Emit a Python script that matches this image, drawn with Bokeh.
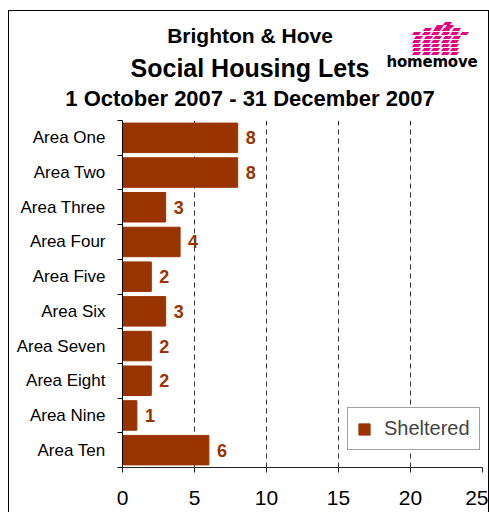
import html as _html
from bokeh.plotting import figure
from bokeh.layouts import column
from bokeh.models import (ColumnDataSource, FixedTicker, LabelSet, Legend, LegendItem, Div)
from bokeh.core.properties import value
from bokeh.embed import file_html
from bokeh.resources import INLINE

# ---- data ----
categories = ["Area One", "Area Two", "Area Three", "Area Four", "Area Five",
              "Area Six", "Area Seven", "Area Eight", "Area Nine", "Area Ten"]
sheltered = [8, 8, 3, 4, 2, 3, 2, 2, 1, 6]
x_ticks = [0, 5, 10, 15, 20, 25]
series_name = "Sheltered"
title_lines = ["Brighton & Hove", "Social Housing Lets", "1 October 2007 - 31 December 2007"]
logo_word = "homemove"

FONT = "Liberation Sans"
BAR = "#993300"
PINK = "#e6007e"
W = 479
HEAD_H = 109

# ---------------- header (titles + logo) as HTML ----------------
title_sizes = [21, 25, 22]
title_cy = [24, 57, 88]          # vertical centres inside the header
parts = [f'<div style="position:relative;width:{W}px;height:{HEAD_H}px;overflow:hidden;'
         f'font-family:\'{FONT}\',Arial,sans-serif;color:black;">']
for t, s, cy in zip(title_lines, title_sizes, title_cy):
    parts.append(f'<div style="position:absolute;left:0;width:482px;top:{cy - s // 2}px;'
                 f'height:{s}px;line-height:{s}px;font-size:{s}px;font-weight:bold;'
                 f'text-align:center;white-space:nowrap;">{_html.escape(t)}</div>')
# logo: rows of small slanted pink blocks (row top, first block left, count)
logo_rows = [(11, 435, 1), (14, 427, 2), (17, 415, 4), (21, 404, 6),
             (25, 406, 5), (29, 404, 5), (33, 404, 5), (37, 404, 5), (41, 404, 5)]
for top, left, cnt in logo_rows:
    for k in range(cnt):
        parts.append(f'<div style="position:absolute;left:{left + 9.5 * k:.1f}px;top:{top}px;'
                     f'width:7px;height:3px;background:{PINK};transform:skewX(-35deg);"></div>')
parts.append(f'<div style="position:absolute;left:373px;width:100px;top:45px;height:12px;'
             f'line-height:12px;font-family:\'DejaVu Sans\',sans-serif;font-size:15px;'
             f'font-weight:900;text-align:center;letter-spacing:-0.2px;">{logo_word}</div>')
parts.append('</div>')
head = Div(text="".join(parts), width=W, height=HEAD_H, margin=(0, 0, 0, 0))

# ---------------- main chart ----------------
n = len(categories)
ypos = [n - 0.5 - i for i in range(n)]
src = ColumnDataSource(dict(cat=categories, val=sheltered, y=ypos,
                            lbl=[str(v) for v in sheltered]))

p = figure(width=W, height=501 - HEAD_H, x_range=(0, 25), y_range=(0, n),
           output_backend="svg", toolbar_location=None,
           min_border_left=113, min_border_right=6,
           min_border_top=0, min_border_bottom=45)
p.outline_line_color = None
p.background_fill_color = "white"

r = p.hbar(y="y", left=0, right="val", height=0.85, source=src,
           fill_color=BAR, line_color=BAR)

p.add_layout(LabelSet(x="val", y="y", text="lbl", source=src, x_offset=8,
                      text_baseline="middle", text_align="left",
                      text_font=value(FONT), text_font_size="18px",
                      text_font_style="bold", text_color=BAR))

# x axis
p.xaxis.ticker = FixedTicker(ticks=x_ticks)
p.xaxis.major_label_text_font = FONT
p.xaxis.major_label_text_font_size = "21px"
p.xaxis.major_label_text_color = "black"
p.xaxis.major_tick_out = 5
p.xaxis.major_tick_in = 0
p.xaxis.minor_tick_line_color = None
p.xaxis.axis_line_color = "#222222"
p.xaxis.major_tick_line_color = "#222222"
p.xaxis.major_label_standoff = 18

# y axis (category labels centered, ticks on boundaries)
p.yaxis.ticker = FixedTicker(ticks=ypos, minor_ticks=list(range(n + 1)))
p.yaxis.major_label_overrides = {y: c for y, c in zip(ypos, categories)}
p.yaxis.major_tick_line_color = None
p.yaxis.major_tick_in = 0
p.yaxis.major_tick_out = 0
p.yaxis.minor_tick_out = 5
p.yaxis.minor_tick_in = 0
p.yaxis.minor_tick_line_color = "black"
p.yaxis.axis_line_color = "black"
p.yaxis.major_label_standoff = 12
p.yaxis.major_label_text_font = FONT
p.yaxis.major_label_text_font_size = "17px"
p.yaxis.major_label_text_color = "black"

p.xgrid.grid_line_color = "#333333"
p.xgrid.grid_line_dash = "5 4"
p.ygrid.grid_line_color = None

legend = Legend(items=[LegendItem(label=series_name, renderers=[r])],
                location=(225, 17), padding=9, label_standoff=13,
                glyph_width=14, glyph_height=14,
                label_text_font=FONT, label_text_font_size="20px",
                border_line_color="#444444", border_line_width=1,
                background_fill_color="white", background_fill_alpha=1)
p.add_layout(legend)

layout = column(head, p, spacing=0)
layout.margin = (10, 0, 0, 8)
layout.styles = {"border-left": "1px solid black", "border-top": "1px solid black",
                 "border-right": "1px solid black"}

open("out.html", "w").write(file_html(layout, INLINE))
